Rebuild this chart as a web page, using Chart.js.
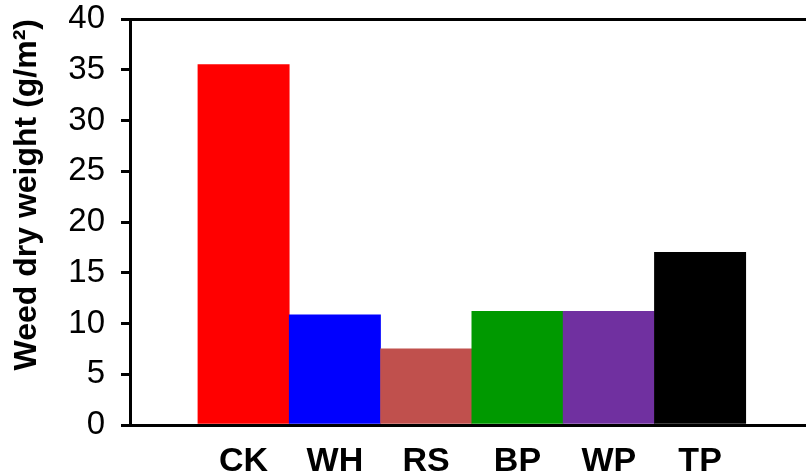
<!DOCTYPE html>
<html>
<head>
<meta charset="utf-8">
<script src="https://cdn.jsdelivr.net/npm/chart.js@4"></script>
<style>
  html, body { margin: 0; padding: 0; background: #fff; }
  .wrap { width: 806px; height: 472px; }
</style>
</head>
<body>
<div class="wrap"><canvas id="chart"></canvas></div>
<script>
const categories = ["CK", "WH", "RS", "BP", "WP", "TP"];
const weights = [35.5, 10.85, 7.5, 11.2, 11.2, 17.0];
const barColors = ["#ff0000", "#0000ff", "#c0504d", "#009900", "#7030a0", "#000000"];
const yTicks = [0, 5, 10, 15, 20, 25, 30, 35, 40];

const font = "'Liberation Sans', Arial, sans-serif";

// bars sit on a linear x axis so the plot can run past the last bar like the original
new Chart(document.getElementById("chart"), {
  type: "bar",
  data: {
    datasets: [{
      data: weights.map((w, i) => ({ x: i + 1, y: w })),
      backgroundColor: barColors,
      borderWidth: 0,
      categoryPercentage: 1,
      barPercentage: 1,
    }],
  },
  options: {
    responsive: true,
    maintainAspectRatio: false,
    animation: false,
    layout: { padding: { top: 19, right: 0, left: 0, bottom: 0 } },
    plugins: { legend: { display: false }, tooltip: { enabled: false } },
    scales: {
      x: {
        type: "linear",
        offset: false,
        bounds: "data",
        min: -0.244,
        max: 7.16,
        grid: { display: false, drawTicks: false, offset: false },
        border: { display: true, color: "#000", width: 3 },
        afterBuildTicks: (s) => { s.ticks = categories.map((c, i) => ({ value: i + 1 })); },
        afterFit: (s) => { s.height = 47; s.paddingLeft = 0; s.paddingRight = 0; },
        ticks: {
          autoSkip: false,
          maxRotation: 0,
          padding: 16,
          color: "#000",
          font: { family: font, size: 34, weight: "bold" },
          callback: (v) => categories[v - 1],
        },
      },
      y: {
        min: 0,
        max: 40,
        afterBuildTicks: (s) => { s.ticks = yTicks.map((v) => ({ value: v })); },
        afterFit: (s) => { s.width = 130; s.paddingTop = 0; s.paddingBottom = 0; },
        grid: {
          drawOnChartArea: true,
          // only the top line (40) shows, as the frame's upper edge
          color: (c) => (c.tick && c.tick.value === 40 ? "#000" : "rgba(0,0,0,0)"),
          lineWidth: 3,
          tickColor: "#000",
          tickLength: 9,
          tickWidth: 3,
        },
        border: { display: true, color: "#000", width: 3 },
        ticks: {
          padding: 16,
          color: "#000",
          font: { family: font, size: 33 },
        },
        title: {
          display: true,
          align: "end",
          text: "Weed dry weight (g/m²)",
          color: "#000",
          padding: { top: 8, bottom: 0 },
          font: { family: font, size: 32, weight: "bold" },
        },
      },
    },
  },
});
</script>
</body>
</html>
